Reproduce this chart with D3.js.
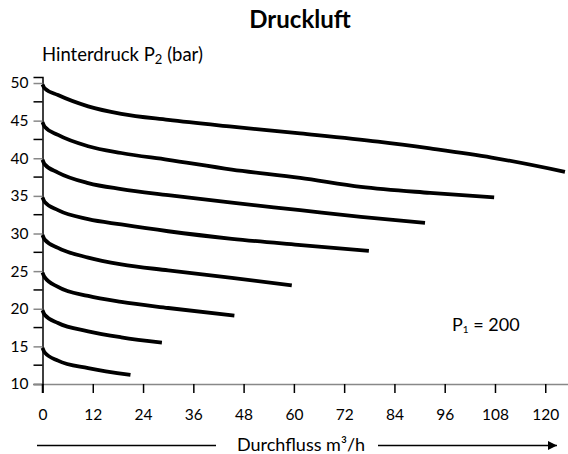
<!DOCTYPE html>
<html>
<head>
<meta charset="utf-8">
<script src="https://cdn.jsdelivr.net/npm/d3@7"></script>
<style>
  body { margin: 0; background: #fff; }
  svg { display: block; font-family: Lato, "Open Sans", sans-serif; }
</style>
</head>
<body>
<div id="chart"></div>
<script>
// Hinterdruck P2 (bar) vs Durchfluss (m3/h), one curve per set pressure
const xTicks = [0, 12, 24, 36, 48, 60, 72, 84, 96, 108, 120];
const yTicks = [10, 15, 20, 25, 30, 35, 40, 45, 50];
const yMinor = [12.5, 17.5, 22.5, 27.5, 32.5, 37.5, 42.5, 47.5];

const curve50 = [[0,49.8],[0.5,49.3],[3.7,48.4],[10.9,46.9],[18.8,45.9],[30,45.1],[45.2,44.2],[61.5,43.3],[80.1,42.2],[92.5,41.3],[107.2,40.1],[124.7,38.2]];
const curve45 = [[0,44.8],[0.5,44.2],[3.7,43.1],[10.9,41.6],[18.8,40.7],[30,39.8],[45.2,38.5],[61.5,37.4],[76,36.2],[92.5,35.4],[107.8,34.8]];
const curve40 = [[0,39.8],[0.5,39.2],[3.7,38.1],[10.9,36.7],[18.8,35.9],[30,35.1],[45.2,34.1],[61.5,33.1],[76,32.2],[91.3,31.4]];
const curve35 = [[0,34.8],[0.5,34.2],[3.7,33.1],[10.9,31.9],[18.8,31.2],[30,30.3],[45.2,29.3],[61,28.5],[77.9,27.7]];
const curve30 = [[0,29.8],[0.5,29.2],[3.7,28.1],[10.9,26.8],[18.8,25.9],[30,25.1],[45.2,24.1],[59.5,23.1]];
const curve25 = [[0,24.8],[0.5,24.2],[3.7,22.9],[10.9,21.7],[18.8,20.9],[30,20.1],[45.8,19.1]];
const curve20 = [[0,19.8],[0.5,19.2],[3.7,18.1],[10.9,17.0],[18.8,16.2],[28.5,15.5]];
const curve15 = [[0,14.8],[0.5,14.2],[3.7,13.1],[10.9,12.1],[21,11.2]];
const curves = [curve50, curve45, curve40, curve35, curve30, curve25, curve20, curve15];

const W = 568, H = 454;
const svg = d3.select('#chart').append('svg').attr('width', W).attr('height', H);

const x = d3.scaleLinear().domain([0, 125.5]).range([42.5, 568.3]);
const y = d3.scaleLinear().domain([10, 50.8]).range([384, 77]);

// title
svg.append('text')
  .attr('x', 300).attr('y', 28)
  .attr('text-anchor', 'middle')
  .attr('font-size', 24).attr('font-weight', 'bold')
  .text('Druckluft');

// y label
const yl = svg.append('text').attr('x', 42).attr('y', 61).attr('font-size', 18.5);
yl.append('tspan').text('Hinterdruck P');
yl.append('tspan').attr('font-size', 13).attr('dy', 3).text('2');
yl.append('tspan').attr('dy', -3).text(' (bar)');

// x axis
const xAxis = svg.append('g').attr('transform', `translate(0,${y(10)})`)
  .call(d3.axisBottom(x).tickValues(xTicks).tickSize(9).tickPadding(16));
xAxis.select('.domain').attr('stroke', '#888').attr('stroke-width', 1.5);
xAxis.selectAll('.tick line').attr('stroke', '#000').attr('stroke-width', 1.5);
xAxis.selectAll('.tick text').attr('font-size', 15.5).attr('fill', '#000').attr('font-family', 'Lato');

// y axis
const yAxis = svg.append('g').attr('transform', `translate(${x(0)},0)`)
  .call(d3.axisLeft(y).tickValues(yTicks).tickSize(9).tickPadding(5));
yAxis.select('.domain').attr('stroke', '#000').attr('stroke-width', 1.5);
yAxis.selectAll('.tick line').attr('stroke', '#888').attr('stroke-width', 1.5);
yAxis.selectAll('.tick text').attr('font-size', 15.5).attr('fill', '#000').attr('font-family', 'Lato');

svg.append('g').selectAll('line').data(yMinor).join('line')
  .attr('x1', x(0) - 9).attr('x2', x(0))
  .attr('y1', d => y(d)).attr('y2', d => y(d))
  .attr('stroke', '#000').attr('stroke-width', 1.5);

svg.append('line')
  .attr('x1', x(0)).attr('x2', x(0)).attr('y1', y(10)).attr('y2', y(10) + 9)
  .attr('stroke', '#000').attr('stroke-width', 1.5);

// curves
const line = d3.line().x(d => x(d[0])).y(d => y(d[1])).curve(d3.curveMonotoneX);
svg.append('g').selectAll('path').data(curves).join('path')
  .attr('d', line)
  .attr('fill', 'none')
  .attr('stroke', '#000')
  .attr('stroke-width', 3.8);

// P1 label
const pl = svg.append('text').attr('x', 452).attr('y', 331).attr('font-size', 18);
pl.append('tspan').text('P');
pl.append('tspan').attr('font-size', 10).attr('dy', 2).text('1');
pl.append('tspan').attr('dy', -2).text(' = 200');

// x label with arrow
svg.append('defs').append('marker')
  .attr('id', 'arr').attr('viewBox', '0 0 10 10')
  .attr('refX', 10).attr('refY', 5)
  .attr('markerWidth', 12).attr('markerHeight', 9)
  .attr('markerUnits', 'userSpaceOnUse')
  .attr('orient', 'auto')
  .append('path').attr('d', 'M0,0L10,5L0,10Z').attr('fill', '#000');

svg.append('line').attr('x1', 37).attr('x2', 216).attr('y1', 445.5).attr('y2', 445.5)
  .attr('stroke', '#000').attr('stroke-width', 1.5);
svg.append('line').attr('x1', 378).attr('x2', 557).attr('y1', 445.5).attr('y2', 445.5)
  .attr('stroke', '#000').attr('stroke-width', 1.5).attr('marker-end', 'url(#arr)');

svg.append('text').attr('x', 237).attr('y', 451).attr('font-size', 18)
  .text('Durchfluss m³/h');
</script>
</body>
</html>
